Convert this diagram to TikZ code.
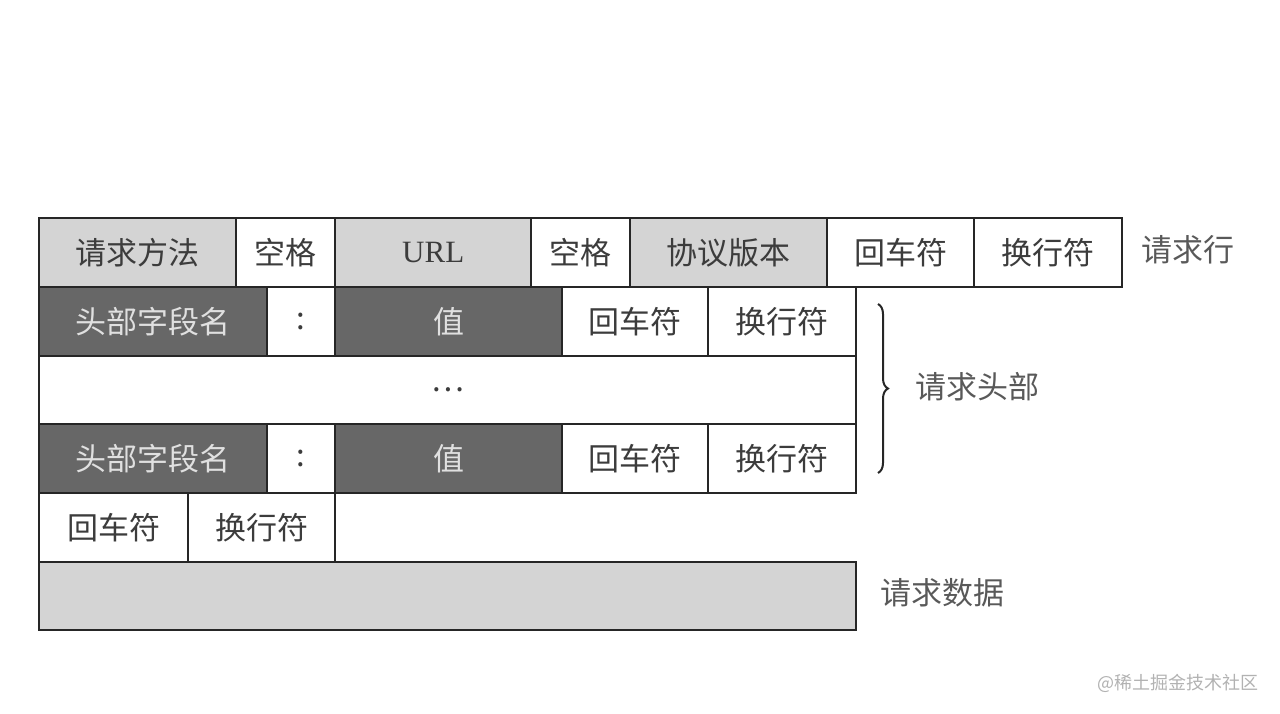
\documentclass[tikz,border=0pt]{standalone}
\usepackage{fontspec}
\newfontfamily\cjk{Noto Sans CJK SC}
\newfontfamily\latinserif{Liberation Serif}
\usetikzlibrary{decorations.pathreplacing}
\definecolor{lightcell}{HTML}{D4D4D4}
\definecolor{darkcell}{HTML}{676767}
\definecolor{rule}{HTML}{262626}
\definecolor{ink}{HTML}{3C3C3C}
\tikzset{
  cell/.style={draw=rule, line width=2.4pt, anchor=north west, inner sep=0pt,
    minimum height=69pt, text=ink, font=\cjk\fontsize{31}{36}\selectfont},
  light/.style={cell, fill=lightcell},
  plain/.style={cell, fill=white},
  dark/.style={cell, fill=darkcell, text=white!88!black},
  side/.style={text=ink!85!white, font=\cjk\fontsize{31}{36}\selectfont}
}
\begin{document}
\begin{tikzpicture}[x=1pt, y=-1pt]
  \useasboundingbox (0,0) rectangle (1280,713);

  % request line
  \node[light, minimum width=197pt] (method) at (38,217) {请求方法};
  \node[plain, minimum width=99pt] (spaceA) at (235,217) {空格};
  \node[light, minimum width=196pt, font=\latinserif\fontsize{31}{36}\selectfont] (url) at (334,217) {URL};
  \node[plain, minimum width=99pt] (spaceB) at (530,217) {空格};
  \node[light, minimum width=197pt] (version) at (629,217) {协议版本};
  \node[plain, minimum width=147pt] (crA) at (826,217) {回车符};
  \node[plain, minimum width=148pt] (lfA) at (973,217) {换行符};
  \node[side] (reqline) at (1188,250) {请求行};

  % header lines
  \node[dark, minimum width=228pt] (nameA) at (38,286) {头部字段名};
  \node[plain, minimum width=68pt] (colonA) at (266,286) {:};
  \node[dark, minimum width=227pt] (valueA) at (334,286) {值};
  \node[plain, minimum width=146pt] (crB) at (561,286) {回车符};
  \node[plain, minimum width=148pt] (lfB) at (707,286) {换行符};

  \node[plain, minimum width=817pt, minimum height=68pt] (more) at (38,355) {…};

  \node[dark, minimum width=228pt] (nameB) at (38,423) {头部字段名};
  \node[plain, minimum width=68pt] (colonB) at (266,423) {:};
  \node[dark, minimum width=227pt] (valueB) at (334,423) {值};
  \node[plain, minimum width=146pt] (crC) at (561,423) {回车符};
  \node[plain, minimum width=148pt] (lfC) at (707,423) {换行符};

  \coordinate (braceTop) at (878,304);
  \coordinate (braceBot) at (878,473);
  \draw[rule, line width=2pt, decorate, decoration={brace, amplitude=10pt}] (braceTop) -- (braceBot);
  \node[side] (headers) at (977,387) {请求头部};

  % empty line
  \node[plain, minimum width=149pt] (crD) at (38,492) {回车符};
  \node[plain, minimum width=147pt] (lfD) at (187,492) {换行符};

  % body
  \node[light, minimum width=817pt, minimum height=68pt] (body) at (38,561) {};
  \node[side] (bodylabel) at (942,593) {请求数据};

  \node[text=black!30, font=\cjk\fontsize{18}{21}\selectfont, anchor=east] (mark) at (1262,683) {@稀土掘金技术社区};
\end{tikzpicture}
\end{document}
